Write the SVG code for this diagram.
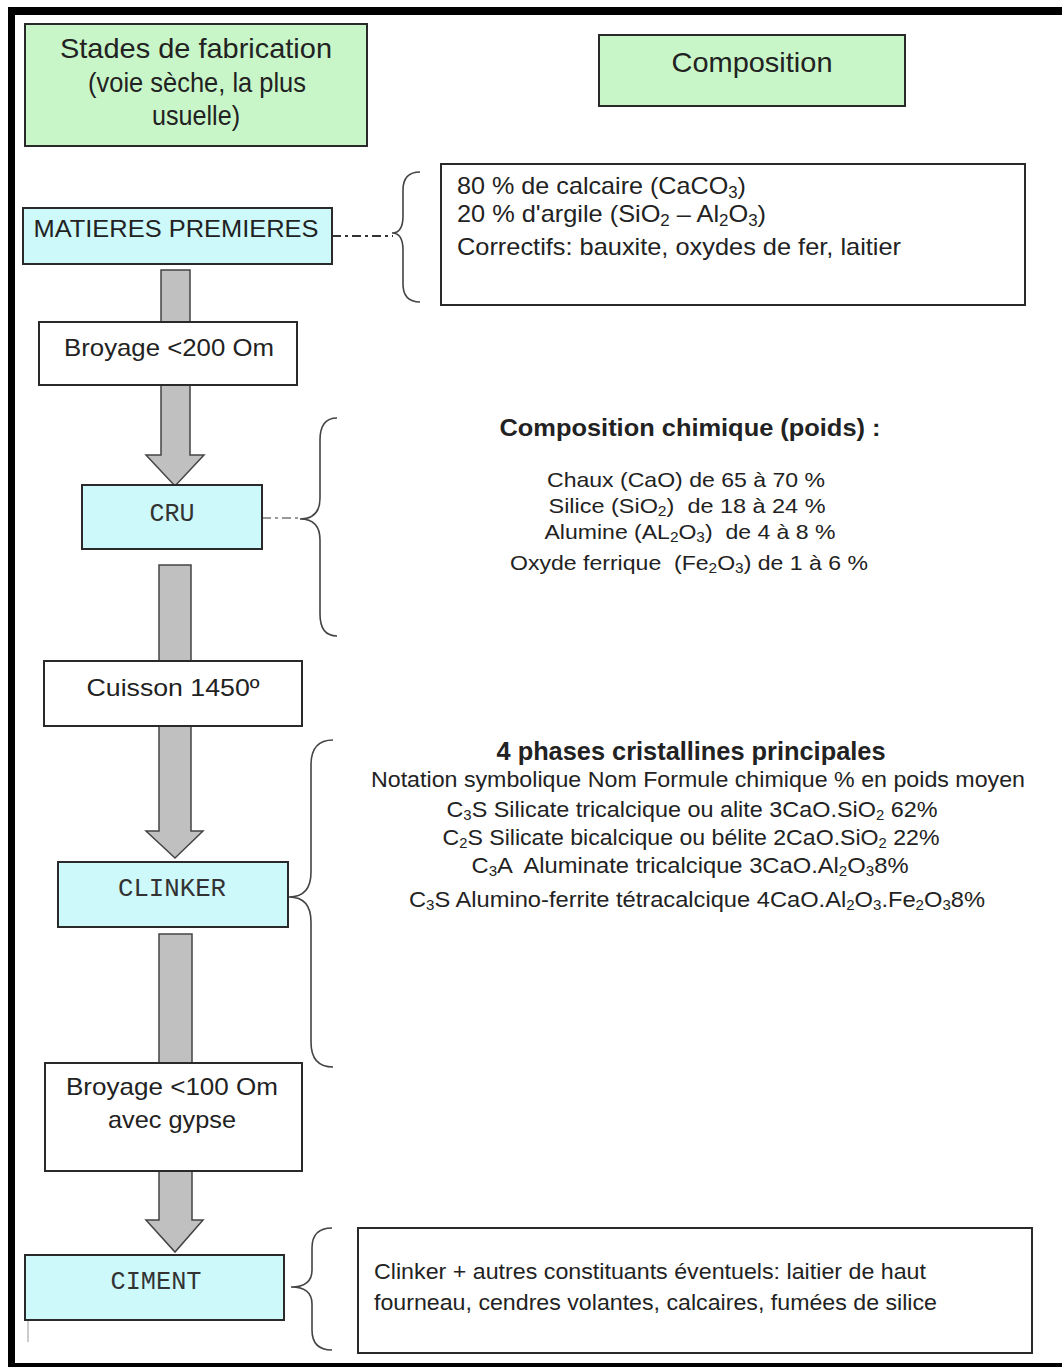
<svg xmlns="http://www.w3.org/2000/svg" width="1062" height="1367" viewBox="0 0 1062 1367">
<style>
.t{font-family:"Liberation Sans",Arial,sans-serif;fill:#222;}
.b{font-weight:bold;}
.m{font-family:"Liberation Mono","Courier New",monospace;fill:#333;}
.box{stroke:#2a2a2a;stroke-width:2;}
.green{fill:#c9f6c9;}
.cyan{fill:#cdf9fb;}
.white{fill:#fff;}
.arrow{fill:#c0c0c0;stroke:#444;stroke-width:1.5;}
.brace{fill:none;stroke:#444;stroke-width:1.6;}
.dd{stroke:#333;stroke-width:2;stroke-dasharray:9 4 3 4;fill:none;}
</style>
<rect x="0" y="0" width="1062" height="1367" fill="#fff"/>
<g id="frame">
<rect x="8" y="7" width="1054" height="8" fill="#000"/>
<rect x="8" y="7" width="7" height="1360" fill="#000"/>
<rect x="8" y="1363" width="1054" height="4" fill="#000"/>
<line x1="28" y1="1320" x2="28" y2="1342" stroke="#999" stroke-width="1"/>
</g>
<g id="connectors">
<polygon class="arrow" points="161,270 190,270 190,455 204,455 175,486 146,455 161,455"/>
<polygon class="arrow" points="159,565 191,565 191,831 203,831 175,858 146,831 159,831"/>
<polygon class="arrow" points="159,934 192,934 192,1220 203,1220 175,1252 146,1220 159,1220"/>
<line class="dd" x1="332" y1="236" x2="393" y2="236"/>
<line class="dd" x1="262" y1="518" x2="300" y2="518" style="stroke:#777;stroke-width:1.5"/>
<path class="brace" d="M420,172 Q403,172 403,190 L403,216 Q403,233 392,233 Q403,233 403,250 L403,284 Q403,302 420,302"/>
<path class="brace" d="M337,418 Q320,418 320,440 L320,498 Q320,519 300,519 Q320,519 320,540 L320,614 Q320,636 337,636"/>
<path class="brace" d="M333,740 Q311,740 311,765 L311,872 Q311,897 289,897 Q311,897 311,922 L311,1042 Q311,1067 333,1067"/>
<path class="brace" d="M332,1228 Q312,1228 312,1248 L312,1270 Q312,1287 291,1287 Q312,1287 312,1304 L312,1330 Q312,1350 332,1350"/>
</g>
<g id="header-stades">
<rect class="box green" x="25" y="24" width="342" height="122"/>
<text class="t" x="196" y="58" font-size="28" text-anchor="middle" textLength="272" lengthAdjust="spacingAndGlyphs">Stades de fabrication</text>
<text class="t" x="197" y="92" font-size="28" text-anchor="middle" textLength="218" lengthAdjust="spacingAndGlyphs">(voie sèche, la plus</text>
<text class="t" x="196" y="125" font-size="28" text-anchor="middle" textLength="88" lengthAdjust="spacingAndGlyphs">usuelle)</text>
</g>
<g id="header-composition">
<rect class="box green" x="599" y="35" width="306" height="71"/>
<text class="t" x="752" y="72" font-size="28" text-anchor="middle" textLength="161" lengthAdjust="spacingAndGlyphs">Composition</text>
</g>
<g id="matieres">
<rect class="box cyan" x="23" y="208" width="309" height="56"/>
<text class="t" x="176" y="237" font-size="24" text-anchor="middle" textLength="285" lengthAdjust="spacingAndGlyphs">MATIERES PREMIERES</text>
</g>
<g id="matieres-composition">
<rect class="box white" x="441" y="164" width="584" height="141"/>
<text class="t" x="457" y="194" font-size="24" textLength="289" lengthAdjust="spacingAndGlyphs">80 % de calcaire (CaCO<tspan font-size="16" dy="4">3</tspan><tspan dy="-4">)</tspan></text>
<text class="t" x="457" y="222" font-size="24" textLength="309" lengthAdjust="spacingAndGlyphs">20 % d'argile (SiO<tspan font-size="16" dy="4">2</tspan><tspan dy="-4"> – Al</tspan><tspan font-size="16" dy="4">2</tspan><tspan dy="-4">O</tspan><tspan font-size="16" dy="4">3</tspan><tspan dy="-4">)</tspan></text>
<text class="t" x="457" y="255" font-size="24" textLength="444" lengthAdjust="spacingAndGlyphs">Correctifs: bauxite, oxydes de fer, laitier</text>
</g>
<g id="broyage1">
<rect class="box white" x="39" y="322" width="258" height="63"/>
<text class="t" x="169" y="356" font-size="24" text-anchor="middle" textLength="210" lengthAdjust="spacingAndGlyphs">Broyage &lt;200 Om</text>
</g>
<g id="cru">
<rect class="box cyan" x="82" y="485" width="180" height="64"/>
<text class="m" x="172" y="521" font-size="25" text-anchor="middle" textLength="45" lengthAdjust="spacingAndGlyphs">CRU</text>
</g>
<g id="cru-composition">
<text class="t b" x="690" y="436" font-size="24" text-anchor="middle" textLength="381" lengthAdjust="spacingAndGlyphs">Composition chimique (poids) :</text>
<text class="t" x="686" y="487" font-size="21" text-anchor="middle" textLength="278" lengthAdjust="spacingAndGlyphs">Chaux (CaO) de 65 à 70 %</text>
<text class="t" x="687" y="513" font-size="21" text-anchor="middle" textLength="277" lengthAdjust="spacingAndGlyphs" xml:space="preserve">Silice (SiO<tspan font-size="14" dy="3">2</tspan><tspan dy="-3">)  de 18 à 24 %</tspan></text>
<text class="t" x="690" y="539" font-size="21" text-anchor="middle" textLength="291" lengthAdjust="spacingAndGlyphs" xml:space="preserve">Alumine (AL<tspan font-size="14" dy="3">2</tspan><tspan dy="-3">O</tspan><tspan font-size="14" dy="3">3</tspan><tspan dy="-3">)  de 4 à 8 %</tspan></text>
<text class="t" x="689" y="570" font-size="21" text-anchor="middle" textLength="358" lengthAdjust="spacingAndGlyphs" xml:space="preserve">Oxyde ferrique  (Fe<tspan font-size="14" dy="3">2</tspan><tspan dy="-3">O</tspan><tspan font-size="14" dy="3">3</tspan><tspan dy="-3">) de 1 à 6 %</tspan></text>
</g>
<g id="cuisson">
<rect class="box white" x="44" y="661" width="258" height="65"/>
<text class="t" x="173" y="696" font-size="24" text-anchor="middle" textLength="173" lengthAdjust="spacingAndGlyphs">Cuisson 1450º</text>
</g>
<g id="clinker">
<rect class="box cyan" x="58" y="862" width="230" height="65"/>
<text class="m" x="172" y="896" font-size="25" text-anchor="middle" textLength="108" lengthAdjust="spacingAndGlyphs">CLINKER</text>
</g>
<g id="clinker-phases">
<text class="t b" x="691" y="760" font-size="25" text-anchor="middle" textLength="389" lengthAdjust="spacingAndGlyphs">4 phases cristallines principales</text>
<text class="t" x="698" y="787" font-size="22" text-anchor="middle" textLength="654" lengthAdjust="spacingAndGlyphs">Notation symbolique Nom Formule chimique % en poids moyen</text>
<text class="t" x="692" y="817" font-size="22" text-anchor="middle" textLength="491" lengthAdjust="spacingAndGlyphs">C<tspan font-size="14" dy="3">3</tspan><tspan dy="-3">S Silicate tricalcique ou alite 3CaO.SiO</tspan><tspan font-size="14" dy="3">2</tspan><tspan dy="-3"> 62%</tspan></text>
<text class="t" x="691" y="845" font-size="22" text-anchor="middle" textLength="497" lengthAdjust="spacingAndGlyphs">C<tspan font-size="14" dy="3">2</tspan><tspan dy="-3">S Silicate bicalcique ou bélite 2CaO.SiO</tspan><tspan font-size="14" dy="3">2</tspan><tspan dy="-3"> 22%</tspan></text>
<text class="t" x="690" y="873" font-size="22" text-anchor="middle" textLength="437" lengthAdjust="spacingAndGlyphs" xml:space="preserve">C<tspan font-size="14" dy="3">3</tspan><tspan dy="-3">A  Aluminate tricalcique 3CaO.Al</tspan><tspan font-size="14" dy="3">2</tspan><tspan dy="-3">O</tspan><tspan font-size="14" dy="3">3</tspan><tspan dy="-3">8%</tspan></text>
<text class="t" x="697" y="907" font-size="22" text-anchor="middle" textLength="576" lengthAdjust="spacingAndGlyphs">C<tspan font-size="14" dy="3">3</tspan><tspan dy="-3">S Alumino-ferrite tétracalcique 4CaO.Al</tspan><tspan font-size="14" dy="3">2</tspan><tspan dy="-3">O</tspan><tspan font-size="14" dy="3">3</tspan><tspan dy="-3">.Fe</tspan><tspan font-size="14" dy="3">2</tspan><tspan dy="-3">O</tspan><tspan font-size="14" dy="3">3</tspan><tspan dy="-3">8%</tspan></text>
</g>
<g id="broyage2">
<rect class="box white" x="45" y="1063" width="257" height="108"/>
<text class="t" x="172" y="1095" font-size="24" text-anchor="middle" textLength="212" lengthAdjust="spacingAndGlyphs">Broyage &lt;100 Om</text>
<text class="t" x="172" y="1128" font-size="24" text-anchor="middle" textLength="128" lengthAdjust="spacingAndGlyphs">avec gypse</text>
</g>
<g id="ciment">
<rect class="box cyan" x="25" y="1255" width="259" height="65"/>
<text class="m" x="156" y="1289" font-size="25" text-anchor="middle" textLength="91" lengthAdjust="spacingAndGlyphs">CIMENT</text>
</g>
<g id="ciment-composition">
<rect class="box white" x="358" y="1228" width="674" height="125"/>
<text class="t" x="374" y="1279" font-size="22" textLength="552" lengthAdjust="spacingAndGlyphs">Clinker + autres constituants éventuels: laitier de haut</text>
<text class="t" x="374" y="1310" font-size="22" textLength="563" lengthAdjust="spacingAndGlyphs">fourneau, cendres volantes, calcaires, fumées de silice</text>
</g>
</svg>
